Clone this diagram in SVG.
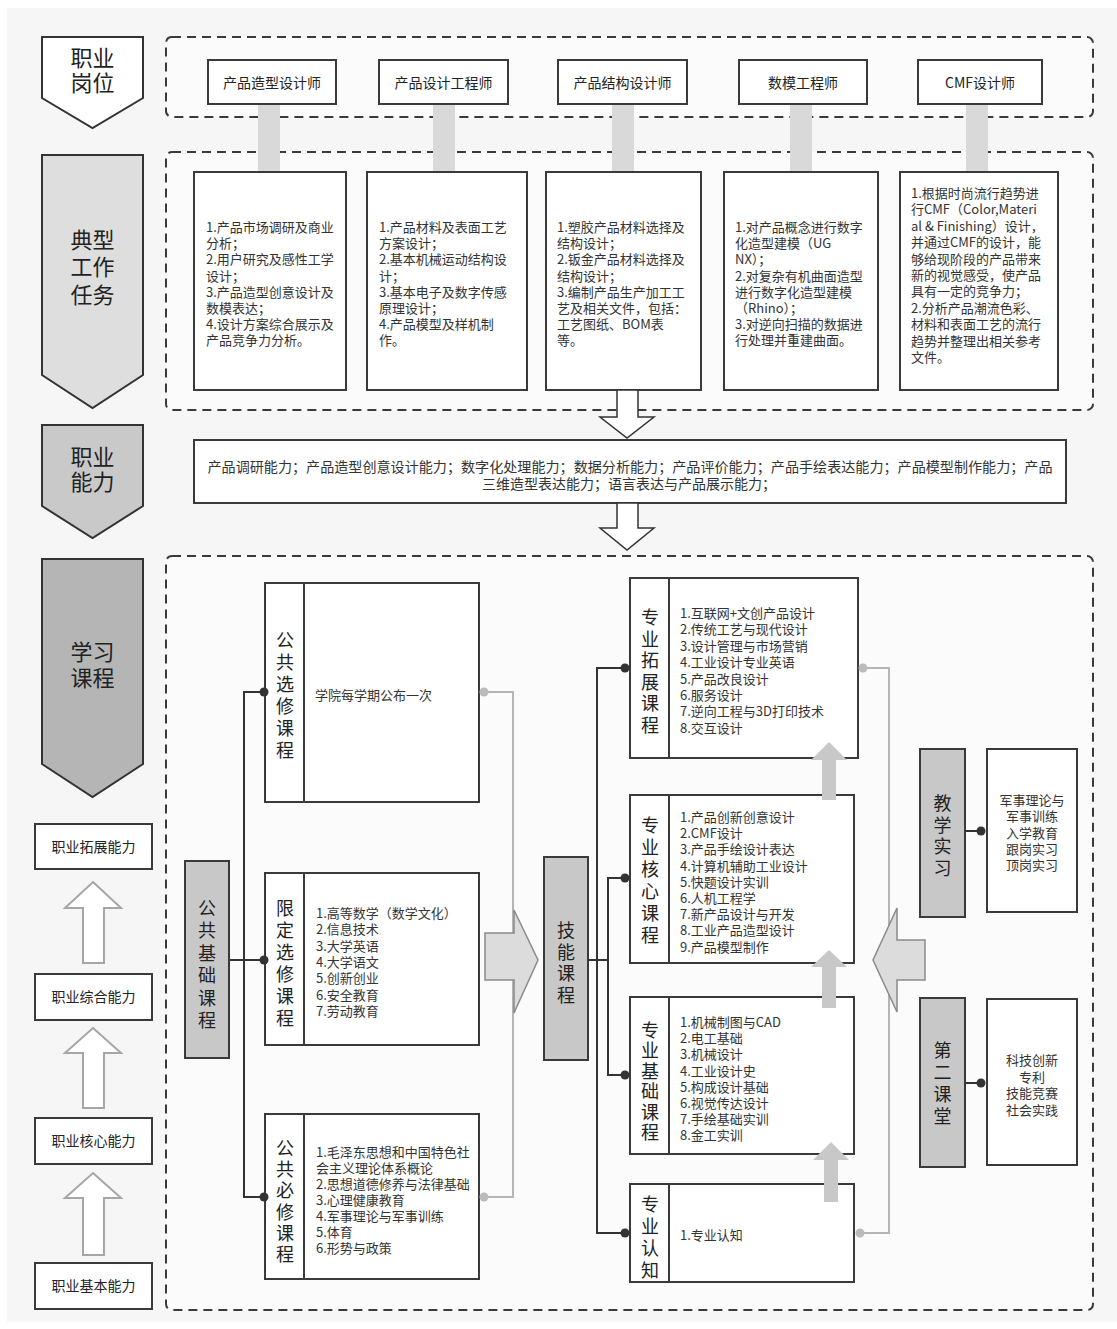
<svg xmlns="http://www.w3.org/2000/svg" width="1117" height="1329" viewBox="0 0 1117 1329">
<style>
.bg{fill:#f6f6f6}
.bx{fill:#fff;stroke:#3a3a3a;stroke-width:2}
.gbx{fill:#c8c8c8;stroke:#3a3a3a;stroke-width:2}
.dash{fill:#fbfbfb;stroke:#3a3a3a;stroke-width:2;stroke-dasharray:9 6}
.bar{fill:#d9d9d9}
.t{font-family:'Noto Sans CJK SC','Noto Sans CJK JP',sans-serif;font-size:13px;fill:#333}
.tm{font-family:'Noto Sans CJK SC','Noto Sans CJK JP',sans-serif;font-size:13px;fill:#333;text-anchor:middle}
.j{font-family:'Noto Sans CJK SC','Noto Sans CJK JP',sans-serif;font-size:14px;fill:#222;text-anchor:middle}
.v{font-family:'Noto Sans CJK SC','Noto Sans CJK JP',sans-serif;font-size:18px;fill:#222;text-anchor:middle}
.c{font-family:'Noto Sans CJK SC','Noto Sans CJK JP',sans-serif;font-size:22px;fill:#222;text-anchor:middle}
.ln{fill:none;stroke:#333;stroke-width:2}
.lg{fill:none;stroke:#b5b5b5;stroke-width:2}
.dd{fill:#333}
.dg{fill:#bbb}
.hd{fill:#fff;stroke:#333;stroke-width:1.5}
.hu{fill:#fff;stroke:#a6a6a6;stroke-width:2}
.ga{fill:#c8c8c8}
.ba{fill:#dcdcdc;stroke:#8a8a8a;stroke-width:1.5}
</style>
<rect x="0" y="0" width="1117" height="1329" fill="#fff"/>
<rect class="bg" x="7" y="8" width="1110" height="1314"/>

<!-- containers -->
<g id="container-jobs"><rect class="dash" x="166" y="37" width="927" height="80" rx="6"/></g>
<g id="container-tasks"><rect class="dash" x="166" y="152" width="927" height="258" rx="6"/></g>
<g id="container-courses"><rect class="dash" x="166" y="556" width="927" height="754" rx="6"/></g>

<!-- left chevrons -->
<g id="stage-jobs">
<polygon points="42,37 143,37 143,98 92.5,128 42,98" fill="#fff" stroke="#333" stroke-width="2"/>
<text class="c" x="92.5" y="66">职业</text><text class="c" x="92.5" y="91">岗位</text>
</g>
<g id="stage-tasks">
<polygon points="42,155 143,155 143,375 92.5,408 42,375" fill="#dedede" stroke="#333" stroke-width="2"/>
<text class="c" x="92.5" y="248">典型</text><text class="c" x="92.5" y="275">工作</text><text class="c" x="92.5" y="303">任务</text>
</g>
<g id="stage-ability">
<polygon points="42,425 143,425 143,506 92.5,538 42,506" fill="#c9c9c9" stroke="#333" stroke-width="2"/>
<text class="c" x="92.5" y="465">职业</text><text class="c" x="92.5" y="490">能力</text>
</g>
<g id="stage-courses">
<polygon points="42,559 143,559 143,764 92.5,797 42,764" fill="#b5b5b5" stroke="#333" stroke-width="2"/>
<text class="c" x="92.5" y="660">学习</text><text class="c" x="92.5" y="686">课程</text>
</g>

<!-- gray bars job->task -->
<g id="job-task-bars">
<rect class="bar" x="258" y="104" width="22" height="68"/>
<rect class="bar" x="433" y="104" width="22" height="68"/>
<rect class="bar" x="612" y="104" width="22" height="68"/>
<rect class="bar" x="790" y="104" width="22" height="68"/>
<rect class="bar" x="966" y="104" width="22" height="68"/>
</g>

<!-- jobs -->
<g id="job-1"><rect class="bx" x="208" y="60" width="128" height="44"/><text class="j" x="272" y="88">产品造型设计师</text></g>
<g id="job-2"><rect class="bx" x="379" y="60" width="129" height="44"/><text class="j" x="443.5" y="88">产品设计工程师</text></g>
<g id="job-3"><rect class="bx" x="558" y="60" width="129" height="44"/><text class="j" x="622.5" y="88">产品结构设计师</text></g>
<g id="job-4"><rect class="bx" x="739" y="60" width="128" height="44"/><text class="j" x="803" y="88">数模工程师</text></g>
<g id="job-5"><rect class="bx" x="918" y="60" width="124" height="44"/><text class="j" x="980" y="88">CMF设计师</text></g>

<!-- tasks -->
<g id="task-1"><rect class="bx" x="194" y="172" width="152" height="218"/>
<text class="t"><tspan x="206" y="232">1.产品市场调研及商业</tspan><tspan x="206" y="248.2">分析；</tspan><tspan x="206" y="264.4">2.用户研究及感性工学</tspan><tspan x="206" y="280.6">设计；</tspan><tspan x="206" y="296.8">3.产品造型创意设计及</tspan><tspan x="206" y="313">数模表达；</tspan><tspan x="206" y="329.2">4.设计方案综合展示及</tspan><tspan x="206" y="345.4">产品竞争力分析。</tspan></text></g>
<g id="task-2"><rect class="bx" x="367" y="172" width="160" height="218"/>
<text class="t"><tspan x="379" y="232">1.产品材料及表面工艺</tspan><tspan x="379" y="248.2">方案设计；</tspan><tspan x="379" y="264.4">2.基本机械运动结构设</tspan><tspan x="379" y="280.6">计；</tspan><tspan x="379" y="296.8">3.基本电子及数字传感</tspan><tspan x="379" y="313">原理设计；</tspan><tspan x="379" y="329.2">4.产品模型及样机制</tspan><tspan x="379" y="345.4">作。</tspan></text></g>
<g id="task-3"><rect class="bx" x="546" y="172" width="155" height="218"/>
<text class="t"><tspan x="557" y="232">1.塑胶产品材料选择及</tspan><tspan x="557" y="248.2">结构设计；</tspan><tspan x="557" y="264.4">2.钣金产品材料选择及</tspan><tspan x="557" y="280.6">结构设计；</tspan><tspan x="557" y="296.8">3.编制产品生产加工工</tspan><tspan x="557" y="313">艺及相关文件，包括：</tspan><tspan x="557" y="329.2">工艺图纸、BOM表</tspan><tspan x="557" y="345.4">等。</tspan></text></g>
<g id="task-4"><rect class="bx" x="724" y="172" width="154" height="218"/>
<text class="t"><tspan x="735" y="232">1.对产品概念进行数字</tspan><tspan x="735" y="248.2">化造型建模（UG</tspan><tspan x="735" y="264.4">NX）；</tspan><tspan x="735" y="280.6">2.对复杂有机曲面造型</tspan><tspan x="735" y="296.8">进行数字化造型建模</tspan><tspan x="735" y="313">（Rhino）；</tspan><tspan x="735" y="329.2">3.对逆向扫描的数据进</tspan><tspan x="735" y="345.4">行处理并重建曲面。</tspan></text></g>
<g id="task-5"><rect class="bx" x="900" y="172" width="158" height="218"/>
<text class="t"><tspan x="911" y="198">1.根据时尚流行趋势进</tspan><tspan x="911" y="214.4">行CMF（Color,Materi</tspan><tspan x="911" y="230.8">al &amp; Finishing）设计，</tspan><tspan x="911" y="247.2">并通过CMF的设计，能</tspan><tspan x="911" y="263.6">够给现阶段的产品带来</tspan><tspan x="911" y="280">新的视觉感受，使产品</tspan><tspan x="911" y="296.4">具有一定的竞争力；</tspan><tspan x="911" y="312.8">2.分析产品潮流色彩、</tspan><tspan x="911" y="329.2">材料和表面工艺的流行</tspan><tspan x="911" y="345.6">趋势并整理出相关参考</tspan><tspan x="911" y="362">文件。</tspan></text></g>

<!-- ability -->
<g id="ability"><rect class="bx" x="194" y="440" width="872" height="63"/>
<text class="tm" style="font-size:14px" x="630" y="472" textLength="845" lengthAdjust="spacingAndGlyphs">产品调研能力；产品造型创意设计能力；数字化处理能力；数据分析能力；产品评价能力；产品手绘表达能力；产品模型制作能力；产品</text>
<text class="tm" style="font-size:14px" x="629" y="489">三维造型表达能力；语言表达与产品展示能力；</text></g>

<!-- left ability ladder -->
<g id="cap-expand"><rect class="bx" x="35" y="824" width="117" height="45"/><text class="j" x="93.5" y="852">职业拓展能力</text></g>
<g id="cap-comprehensive"><rect class="bx" x="35" y="974" width="117" height="46"/><text class="j" x="93.5" y="1002">职业综合能力</text></g>
<g id="cap-core"><rect class="bx" x="35" y="1118" width="117" height="46"/><text class="j" x="93.5" y="1146">职业核心能力</text></g>
<g id="cap-basic"><rect class="bx" x="35" y="1263" width="117" height="46"/><text class="j" x="93.5" y="1291">职业基本能力</text></g>

<!-- public courses -->
<g id="public-base"><rect class="gbx" x="185" y="861" width="44" height="197"/>
<text class="v"><tspan x="207" y="915">公</tspan><tspan x="207" y="937.4">共</tspan><tspan x="207" y="959.8">基</tspan><tspan x="207" y="982.2">础</tspan><tspan x="207" y="1004.6">课</tspan><tspan x="207" y="1027">程</tspan></text></g>
<g id="public-elective"><rect class="bx" x="265" y="583" width="214" height="219"/><line x1="304" y1="583" x2="304" y2="802" stroke="#3a3a3a" stroke-width="2"/>
<text class="v"><tspan x="285" y="647">公</tspan><tspan x="285" y="669">共</tspan><tspan x="285" y="691">选</tspan><tspan x="285" y="713">修</tspan><tspan x="285" y="735">课</tspan><tspan x="285" y="757">程</tspan></text>
<text class="t" x="315" y="700">学院每学期公布一次</text></g>
<g id="limited-elective"><rect class="bx" x="265" y="873" width="214" height="172"/><line x1="304" y1="873" x2="304" y2="1045" stroke="#3a3a3a" stroke-width="2"/>
<text class="v"><tspan x="285" y="915">限</tspan><tspan x="285" y="937">定</tspan><tspan x="285" y="959">选</tspan><tspan x="285" y="981">修</tspan><tspan x="285" y="1003">课</tspan><tspan x="285" y="1025">程</tspan></text>
<text class="t"><tspan x="316" y="918">1.高等数学（数学文化）</tspan><tspan x="316" y="934.3">2.信息技术</tspan><tspan x="316" y="950.6">3.大学英语</tspan><tspan x="316" y="966.9">4.大学语文</tspan><tspan x="316" y="983.2">5.创新创业</tspan><tspan x="316" y="999.5">6.安全教育</tspan><tspan x="316" y="1015.8">7.劳动教育</tspan></text></g>
<g id="public-required"><rect class="bx" x="265" y="1114" width="214" height="165"/><line x1="304" y1="1114" x2="304" y2="1279" stroke="#3a3a3a" stroke-width="2"/>
<text class="v"><tspan x="285" y="1155">公</tspan><tspan x="285" y="1176.2">共</tspan><tspan x="285" y="1197.4">必</tspan><tspan x="285" y="1218.6">修</tspan><tspan x="285" y="1239.8">课</tspan><tspan x="285" y="1261">程</tspan></text>
<text class="t"><tspan x="316" y="1157">1.毛泽东思想和中国特色社</tspan><tspan x="316" y="1173">会主义理论体系概论</tspan><tspan x="316" y="1189">2.思想道德修养与法律基础</tspan><tspan x="316" y="1205">3.心理健康教育</tspan><tspan x="316" y="1221">4.军事理论与军事训练</tspan><tspan x="316" y="1237">5.体育</tspan><tspan x="316" y="1253">6.形势与政策</tspan></text></g>

<!-- skill courses -->
<g id="skill"><rect class="gbx" x="544" y="857" width="44" height="203"/>
<text class="v"><tspan x="566" y="937">技</tspan><tspan x="566" y="958.7">能</tspan><tspan x="566" y="980.4">课</tspan><tspan x="566" y="1002">程</tspan></text></g>
<g id="major-expand"><rect class="bx" x="630" y="578" width="228" height="180"/><line x1="669" y1="578" x2="669" y2="758" stroke="#3a3a3a" stroke-width="2"/>
<text class="v"><tspan x="650" y="624">专</tspan><tspan x="650" y="645.6">业</tspan><tspan x="650" y="667.2">拓</tspan><tspan x="650" y="688.8">展</tspan><tspan x="650" y="710.4">课</tspan><tspan x="650" y="732">程</tspan></text>
<text class="t"><tspan x="680" y="618">1.互联网+文创产品设计</tspan><tspan x="680" y="634.4">2.传统工艺与现代设计</tspan><tspan x="680" y="650.8">3.设计管理与市场营销</tspan><tspan x="680" y="667.2">4.工业设计专业英语</tspan><tspan x="680" y="683.6">5.产品改良设计</tspan><tspan x="680" y="700">6.服务设计</tspan><tspan x="680" y="716.4">7.逆向工程与3D打印技术</tspan><tspan x="680" y="732.8">8.交互设计</tspan></text></g>
<g id="major-core"><rect class="bx" x="630" y="795" width="224" height="168"/><line x1="669" y1="795" x2="669" y2="963" stroke="#3a3a3a" stroke-width="2"/>
<text class="v"><tspan x="650" y="832">专</tspan><tspan x="650" y="854">业</tspan><tspan x="650" y="876">核</tspan><tspan x="650" y="898">心</tspan><tspan x="650" y="920">课</tspan><tspan x="650" y="942">程</tspan></text>
<text class="t"><tspan x="680" y="822">1.产品创新创意设计</tspan><tspan x="680" y="838.2">2.CMF设计</tspan><tspan x="680" y="854.4">3.产品手绘设计表达</tspan><tspan x="680" y="870.6">4.计算机辅助工业设计</tspan><tspan x="680" y="886.8">5.快题设计实训</tspan><tspan x="680" y="903">6.人机工程学</tspan><tspan x="680" y="919.2">7.新产品设计与开发</tspan><tspan x="680" y="935.4">8.工业产品造型设计</tspan><tspan x="680" y="951.6">9.产品模型制作</tspan></text></g>
<g id="major-basic"><rect class="bx" x="630" y="997" width="224" height="157"/><line x1="669" y1="997" x2="669" y2="1154" stroke="#3a3a3a" stroke-width="2"/>
<text class="v"><tspan x="650" y="1037">专</tspan><tspan x="650" y="1057.4">业</tspan><tspan x="650" y="1077.8">基</tspan><tspan x="650" y="1098.2">础</tspan><tspan x="650" y="1118.6">课</tspan><tspan x="650" y="1139">程</tspan></text>
<text class="t"><tspan x="680" y="1027">1.机械制图与CAD</tspan><tspan x="680" y="1043.2">2.电工基础</tspan><tspan x="680" y="1059.4">3.机械设计</tspan><tspan x="680" y="1075.6">4.工业设计史</tspan><tspan x="680" y="1091.8">5.构成设计基础</tspan><tspan x="680" y="1108">6.视觉传达设计</tspan><tspan x="680" y="1124.2">7.手绘基础实训</tspan><tspan x="680" y="1140.4">8.金工实训</tspan></text></g>
<g id="major-intro"><rect class="bx" x="630" y="1184" width="224" height="98"/><line x1="669" y1="1184" x2="669" y2="1282" stroke="#3a3a3a" stroke-width="2"/>
<text class="v"><tspan x="650" y="1211">专</tspan><tspan x="650" y="1233">业</tspan><tspan x="650" y="1255">认</tspan><tspan x="650" y="1277">知</tspan></text>
<text class="t" x="680" y="1240">1.专业认知</text></g>

<!-- practice -->
<g id="teaching-practice"><rect class="gbx" x="920" y="749" width="45" height="168"/>
<text class="v"><tspan x="942.5" y="810">教</tspan><tspan x="942.5" y="831.7">学</tspan><tspan x="942.5" y="853.4">实</tspan><tspan x="942.5" y="875">习</tspan></text></g>
<g id="teaching-practice-items"><rect class="bx" x="987" y="749" width="90" height="163"/>
<text class="tm"><tspan x="1032" y="805">军事理论与</tspan><tspan x="1032" y="821.3">军事训练</tspan><tspan x="1032" y="837.6">入学教育</tspan><tspan x="1032" y="853.9">跟岗实习</tspan><tspan x="1032" y="870.2">顶岗实习</tspan></text></g>
<g id="second-classroom"><rect class="gbx" x="920" y="998" width="45" height="169"/>
<text class="v"><tspan x="942.5" y="1057">第</tspan><tspan x="942.5" y="1079">二</tspan><tspan x="942.5" y="1101">课</tspan><tspan x="942.5" y="1123">堂</tspan></text></g>
<g id="second-classroom-items"><rect class="bx" x="987" y="999" width="90" height="166"/>
<text class="tm"><tspan x="1032" y="1065">科技创新</tspan><tspan x="1032" y="1081.7">专利</tspan><tspan x="1032" y="1098.4">技能竞赛</tspan><tspan x="1032" y="1115">社会实践</tspan></text></g>

<!-- connectors -->
<g id="connectors">
<polygon class="hd" points="617,390 638,390 638,417 654,417 627,438 600,417 617,417"/>
<polygon class="hd" points="617,503 638,503 638,528 654,528 627,550 600,528 617,528"/>
<polygon class="hu" points="93,882 121,908 104,908 104,963 83,963 83,908 65,908"/>
<polygon class="hu" points="93,1028 121,1053 104,1053 104,1108 83,1108 83,1053 65,1053"/>
<polygon class="hu" points="93,1173 121,1198 104,1198 104,1255 83,1255 83,1198 65,1198"/>
<path class="ln" d="M229,960 H264 M264,692 H244 V1197 H264"/>
<circle class="dd" cx="264" cy="692" r="4.5"/><circle class="dd" cx="264" cy="960" r="4.5"/><circle class="dd" cx="264" cy="1197" r="4.5"/>
<path class="lg" d="M484,692 H513 V1197 H484"/>
<circle class="dg" cx="484" cy="692" r="4.5"/><circle class="dg" cx="484" cy="1197" r="4.5"/>
<path class="ln" d="M588,960 H608 M625,878 H608 V1075 H625 M625,668 H597 V1233 H625"/>
<circle class="dd" cx="625" cy="668" r="4.5"/><circle class="dd" cx="625" cy="878" r="4.5"/><circle class="dd" cx="625" cy="1075" r="4.5"/><circle class="dd" cx="625" cy="1233" r="4.5"/>
<path class="lg" d="M863,668 H889 V1233 H860"/>
<circle class="dg" cx="863" cy="668" r="4.5"/><circle class="dg" cx="860" cy="1233" r="4.5"/>
<path class="ln" d="M965,831 H981 M965,1083 H981"/>
<circle class="dd" cx="981" cy="831" r="4.5"/><circle class="dd" cx="981" cy="1083" r="4.5"/>
<polygon class="ba" points="485,933 514,933 514,910 538,960 514,1013 514,980 485,980"/>
<polygon class="ba" points="925,940 897,940 897,908 873,960 897,1012 897,980 925,980"/>
<polygon class="ga" points="829,742 847,760 836,760 836,800 822,800 822,760 811,760"/>
<polygon class="ga" points="829,950 847,967 836,967 836,1008 822,1008 822,967 811,967"/>
<polygon class="ga" points="831,1142 849,1160 838,1160 838,1202 824,1202 824,1160 813,1160"/>
</g>
</svg>
